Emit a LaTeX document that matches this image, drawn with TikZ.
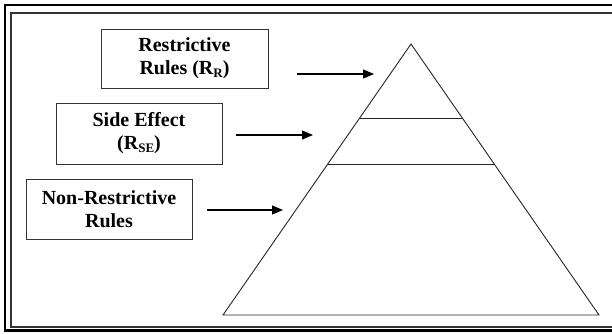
\documentclass[tikz,border=0pt]{standalone}
\usepackage{fontspec}
\setmainfont{Liberation Serif}
\usetikzlibrary{arrows.meta}
\newcommand{\subtx}[1]{\raisebox{-2.5pt}{\fontsize{13}{13}\selectfont\bfseries #1}}
\begin{document}
\begin{tikzpicture}[x=1pt,y=-1pt,
  rulebox/.style={draw=black!80, line width=1pt, align=center, inner sep=0pt,
    font=\fontsize{20}{23}\selectfont\bfseries},
  pointer/.style={line width=1.1pt, -{Triangle[length=11pt,width=9pt]}},
  tri/.style={line width=0.9pt, draw=black!85}]
\useasboundingbox (0,0) rectangle (612,333);
\clip (0,0) rectangle (612,333);
\fill[white] (0,0) rectangle (612,333);
% double border
\draw[line width=2.5pt] (640,5.2) -- (5.2,5.2) -- (5.2,330.5) -- (640,330.5);
\draw[line width=2pt, black!80] (640,13) -- (10.5,13) -- (10.5,326.5) -- (640,326.5);
% boxes
\node[rulebox, minimum width=167pt, minimum height=59pt] (rr) at (184.5,58.5)
  {Restrictive\\Rules (R\subtx{R})};
\node[rulebox, minimum width=166pt, minimum height=61pt] (rse) at (139,133.5)
  {Side Effect\\(R\subtx{SE})};
\node[rulebox, minimum width=166pt, minimum height=60pt] (rnr) at (109,209)
  {Non-Restrictive\\Rules};
% pyramid
\coordinate (apex) at (411,44);
\coordinate (bl) at (223,315);
\coordinate (br) at (599,315);
\coordinate (l1a) at (359.7,118);
\coordinate (l1b) at (462.3,118);
\coordinate (l2a) at (327.7,164);
\coordinate (l2b) at (494.3,164);
\draw[tri, line join=miter] (apex) -- (bl) -- (br) -- cycle;
\draw[tri] (l1a) -- (l1b);
\draw[tri] (l2a) -- (l2b);
% arrows
\coordinate (a1s) at (297,74);
\coordinate (a1e) at (374,74);
\coordinate (a2s) at (236,135);
\coordinate (a2e) at (313,135);
\coordinate (a3s) at (207,210);
\coordinate (a3e) at (283,210);
\draw[pointer] (a1s) -- (a1e);
\draw[pointer] (a2s) -- (a2e);
\draw[pointer] (a3s) -- (a3e);
\end{tikzpicture}
\end{document}
